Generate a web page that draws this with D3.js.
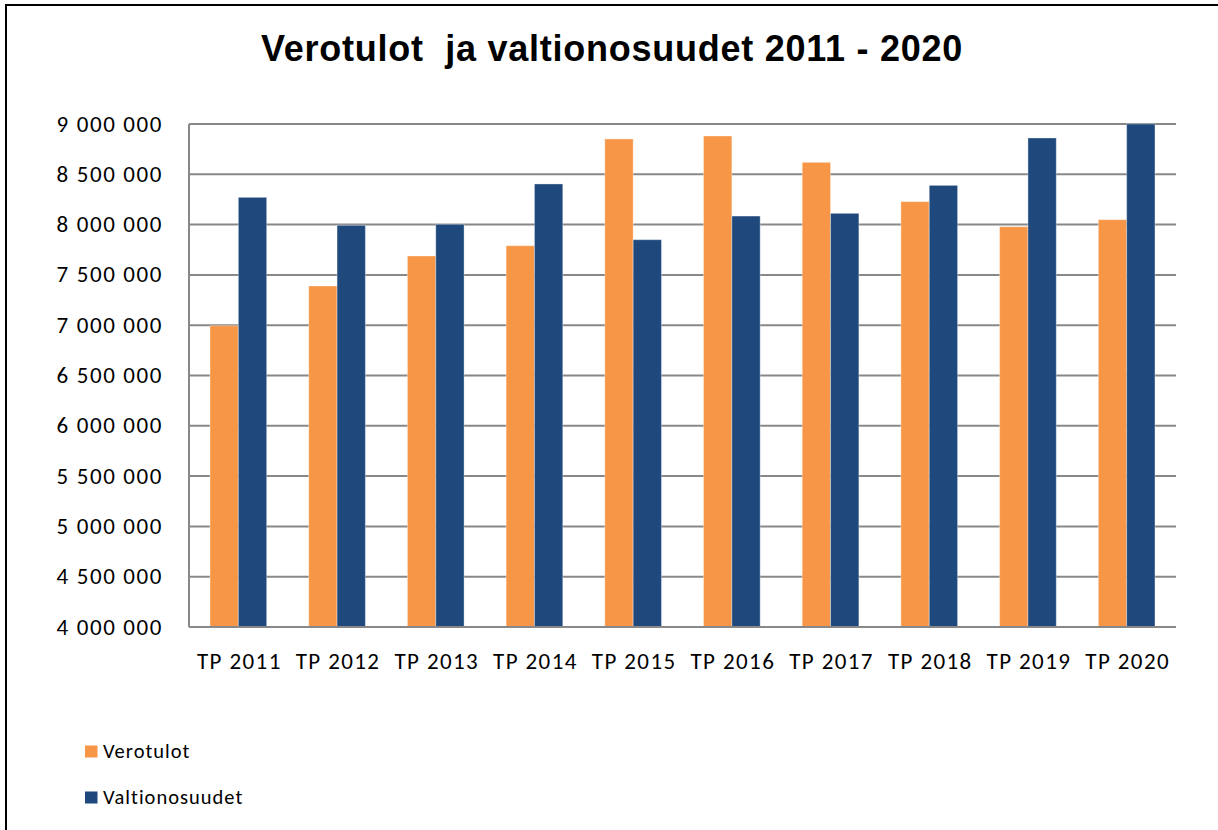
<!DOCTYPE html>
<html>
<head>
<meta charset="utf-8">
<script src="https://cdn.jsdelivr.net/npm/d3@7"></script>
<style>
  body { margin: 0; background: #fff; }
  svg text { white-space: pre; }
</style>
</head>
<body>
<div id="chart"></div>
<script>
var categories = ["TP 2011", "TP 2012", "TP 2013", "TP 2014", "TP 2015", "TP 2016", "TP 2017", "TP 2018", "TP 2019", "TP 2020"];
var verotulot = [6995000, 7390000, 7688000, 7790000, 8851000, 8881000, 8619000, 8228000, 7979000, 8049000];
var valtionosuudet = [8271000, 7993000, 8003000, 8404000, 7850000, 8085000, 8112000, 8390000, 8861000, 9000000];
var seriesNames = ["Verotulot", "Valtionosuudet"];
var colors = ["#F79646", "#1F497D"];
var yTicks = [4000000, 4500000, 5000000, 5500000, 6000000, 6500000, 7000000, 7500000, 8000000, 8500000, 9000000];

var W = 1218, H = 830;
var margin = { top: 124, right: 42, bottom: 203, left: 189 },
    width = W - margin.left - margin.right,
    height = H - margin.top - margin.bottom;

var labelFont = "Carlito, Calibri, 'Open Sans', sans-serif";

var svg = d3.select("#chart")
    .append("svg")
    .attr("width", W)
    .attr("height", H);

// outer frame (right and bottom edges run off the picture)
svg.append("rect")
    .attr("x", 6)
    .attr("y", 5)
    .attr("width", 1300)
    .attr("height", 900)
    .attr("fill", "none")
    .attr("stroke", "#000")
    .attr("stroke-width", 2);

svg.append("text")
    .attr("x", 612)
    .attr("y", 61)
    .attr("text-anchor", "middle")
    .style("font-family", "'Liberation Sans', Arial, sans-serif")
    .style("font-weight", "bold")
    .style("font-size", "36px")
    .style("letter-spacing", "0.75px")
    .text("Verotulot  ja valtionosuudet 2011 - 2020");

var g = svg.append("g")
    .attr("transform", "translate(" + margin.left + "," + margin.top + ")");

var x = d3.scaleBand()
    .domain(categories)
    .range([0, width])
    .paddingInner(0.426)
    .paddingOuter(0.213);

var x1 = d3.scaleBand()
    .domain(seriesNames)
    .range([0, x.bandwidth()]);

var y = d3.scaleLinear()
    .domain([4000000, 9000000])
    .range([height, 0]);

var fmt = function (d) { return d3.format(",")(d).replace(/,/g, " "); };

// gridlines
g.selectAll(".grid")
    .data(yTicks)
    .enter()
    .append("line")
    .attr("x1", 0)
    .attr("x2", width)
    .attr("y1", function (d) { return y(d); })
    .attr("y2", function (d) { return y(d); })
    .attr("stroke", "#888")
    .attr("stroke-width", 2);

// y labels
g.selectAll(".ylab")
    .data(yTicks)
    .enter()
    .append("text")
    .attr("x", -26)
    .attr("y", function (d) { return y(d); })
    .attr("dy", "0.33em")
    .attr("text-anchor", "end")
    .style("font-family", labelFont)
    .style("font-size", "23px")
    .style("letter-spacing", "1.6px")
    .style("fill", "#000")
    .text(fmt);

// bars
var data = categories.map(function (c, i) {
    return { cat: c, vals: [{ k: seriesNames[0], v: verotulot[i] }, { k: seriesNames[1], v: valtionosuudet[i] }] };
});

var groups = g.selectAll(".cat")
    .data(data)
    .enter()
    .append("g")
    .attr("transform", function (d) { return "translate(" + x(d.cat) + ",0)"; });

groups.selectAll("rect")
    .data(function (d) { return d.vals; })
    .enter()
    .append("rect")
    .attr("x", function (d) { return x1(d.k); })
    .attr("y", function (d) { return y(d.v); })
    .attr("width", x1.bandwidth())
    .attr("height", function (d) { return height - y(d.v); })
    .attr("fill", function (d, i) { return colors[i]; })
    .attr("stroke", "rgba(255,255,255,0.35)")
    .attr("stroke-width", 1);

// axis lines
g.append("line")
    .attr("x1", 0).attr("x2", 0)
    .attr("y1", 0).attr("y2", height)
    .attr("stroke", "#888").attr("stroke-width", 2);
g.append("line")
    .attr("x1", 0).attr("x2", width)
    .attr("y1", height).attr("y2", height)
    .attr("stroke", "#888").attr("stroke-width", 2);

// x labels
g.selectAll(".xlab")
    .data(categories)
    .enter()
    .append("text")
    .attr("x", function (d) { return x(d) + x.bandwidth() / 2 + 1; })
    .attr("y", height + 42)
    .attr("text-anchor", "middle")
    .style("font-family", labelFont)
    .style("font-size", "23px")
    .style("letter-spacing", "1.4px")
    .style("fill", "#000")
    .text(function (d) { return d; });

// legend
var legend = svg.selectAll(".leg")
    .data(seriesNames)
    .enter()
    .append("g")
    .attr("transform", function (d, i) { return "translate(85," + (745.5 + i * 46) + ")"; });

legend.append("rect")
    .attr("width", 12.5)
    .attr("height", 12)
    .attr("fill", function (d, i) { return colors[i]; });

legend.append("text")
    .attr("x", 18)
    .attr("y", 12)
    .style("font-family", labelFont)
    .style("font-size", "20.5px")
    .style("letter-spacing", "1px")
    .style("fill", "#000")
    .text(function (d) { return d; });
</script>
</body>
</html>
